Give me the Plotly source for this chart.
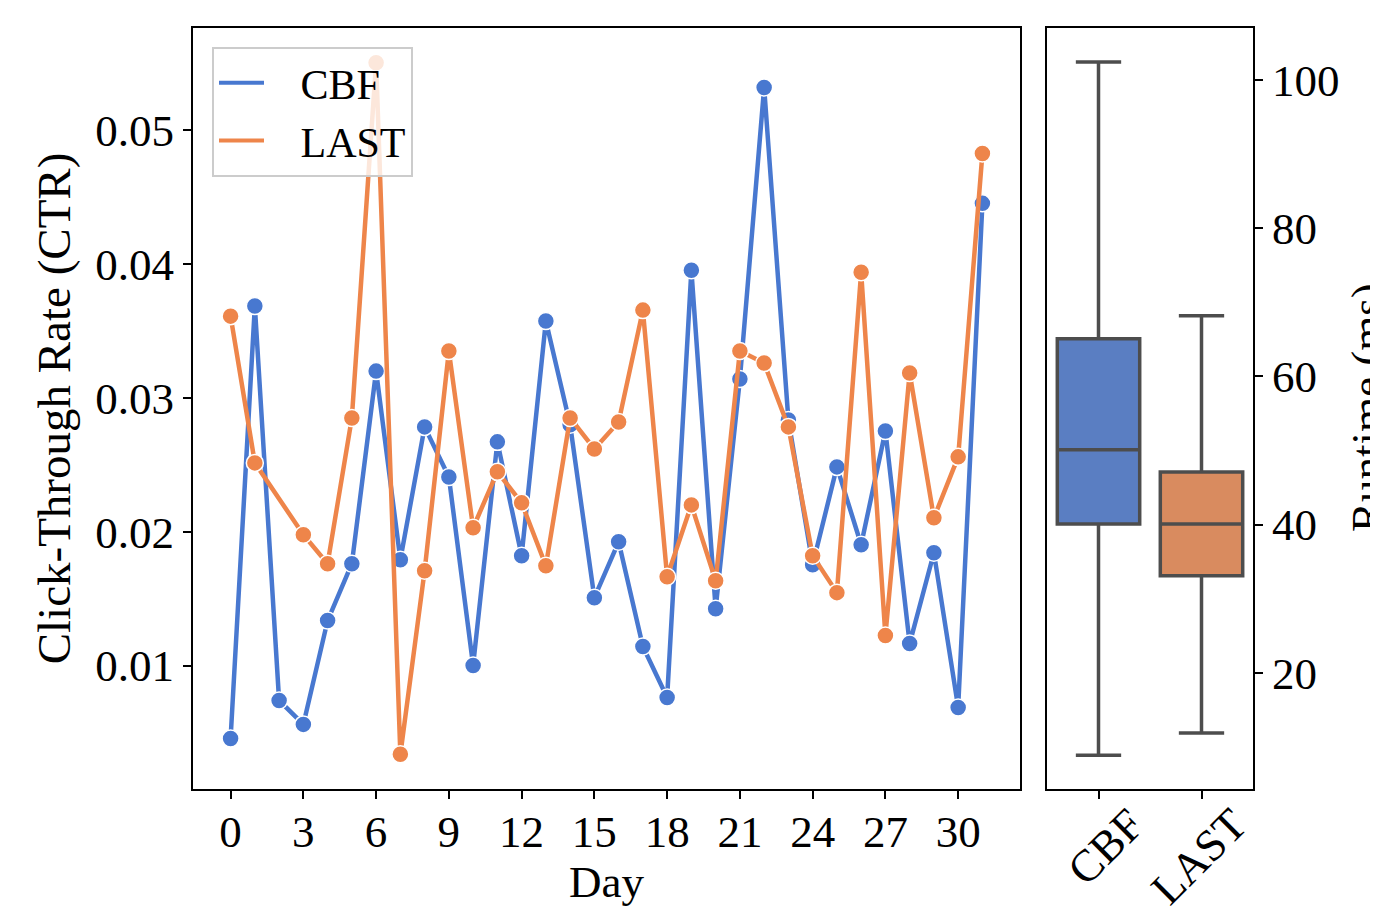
import plotly.graph_objects as go

# ---- data ----
days_cbf = list(range(32))
ctr_cbf = [0.00455, 0.03687, 0.00739, 0.0056, 0.01336, 0.01761, 0.03201, 0.01791,
           0.02784, 0.0241, 0.0100, 0.02672, 0.01821, 0.03575, 0.0280, 0.01507,
           0.01925, 0.01142, 0.00761, 0.03955, 0.01425, 0.03142, 0.05321, 0.02836,
           0.01754, 0.02485, 0.01903, 0.02754, 0.01164, 0.01843, 0.00687, 0.04455]

days_last = [0, 1, 3, 4, 5, 6, 7, 8, 9, 10, 11, 12, 13, 14, 15, 16, 17, 18, 19, 20,
             21, 22, 23, 24, 25, 26, 27, 28, 29, 30, 31]
ctr_last = [0.03612, 0.02515, 0.01978, 0.01761, 0.02851, 0.05507, 0.00336, 0.01709,
            0.03351, 0.0203, 0.02448, 0.02216, 0.01746, 0.02851, 0.02619, 0.02821,
            0.03657, 0.01664, 0.02201, 0.01634, 0.03351, 0.03261, 0.02784, 0.01821,
            0.01545, 0.0394, 0.01224, 0.03187, 0.02104, 0.0256, 0.04828]

methods = ["CBF", "LAST"]
rt_lower = [8.9, 11.9]
rt_q1 = [40.1, 33.1]
rt_median = [50.1, 40.1]
rt_q3 = [65.1, 47.1]
rt_upper = [102.4, 68.2]

x_ticks = list(range(0, 31, 3))
y_ticks = [0.01, 0.02, 0.03, 0.04, 0.05]
rt_ticks = [20, 40, 60, 80, 100]

# ---- style ----
BLUE = "#4878d0"
ORANGE = "#ee854a"
BOX_FILL = ["#5a7ec2", "#d98b5f"]
BOX_LINE = "#4d4d4d"
FONT = "Liberation Serif"
FS = 45

OFF = 8  # page body margin offset
W, H = 1378 - OFF, 910 - OFF
L = 193 - OFF
T = 28 - OFF
R = W - (1253 - OFF)
B = H - (789 - OFF)
pw = W - L - R
ph = H - T - B

def px_x(x):
    return (x - OFF - L) / pw

def px_y(y):
    return 1 - (y - OFF - T) / ph

fig = go.Figure()

fig.add_trace(go.Scatter(
    x=days_cbf, y=ctr_cbf, mode="lines+markers", name="CBF", showlegend=False,
    line=dict(color=BLUE, width=4.5),
    marker=dict(size=17, color=BLUE, line=dict(color="white", width=1.5)),
    xaxis="x", yaxis="y"))
fig.add_trace(go.Scatter(
    x=days_last, y=ctr_last, mode="lines+markers", name="LAST", showlegend=False,
    line=dict(color=ORANGE, width=4.5),
    marker=dict(size=17, color=ORANGE, line=dict(color="white", width=1.5)),
    xaxis="x", yaxis="y"))
# legend entries (line only, like the reference)
NB = "\u00a0"
for nm, col in [("CBF", BLUE), ("LAST", ORANGE)]:
    fig.add_trace(go.Scatter(x=[None], y=[None], mode="lines", name=NB * 3 + nm,
                             line=dict(color=col, width=4), xaxis="x", yaxis="y"))

for i, m in enumerate(methods):
    fig.add_trace(go.Box(
        x=[m], q1=[rt_q1[i]], median=[rt_median[i]], q3=[rt_q3[i]],
        lowerfence=[rt_lower[i]], upperfence=[rt_upper[i]],
        fillcolor=BOX_FILL[i], line=dict(color=BOX_LINE, width=3.5),
        width=0.8, whiskerwidth=0.55, showlegend=False, boxpoints=False,
        xaxis="x2", yaxis="y2"))

axis_common = dict(showline=True, linecolor="black", linewidth=2, mirror=True,
                   ticks="outside", ticklen=8, tickwidth=2, tickcolor="black",
                   showgrid=False, zeroline=False, automargin=False,
                   tickfont=dict(family=FONT, size=FS, color="black"))

fig.update_layout(
    width=W, height=H,
    margin=dict(l=L, r=R, t=T, b=B, autoexpand=False),
    plot_bgcolor="white", paper_bgcolor="white",
    font=dict(family=FONT, size=FS, color="black"),
    xaxis=dict(domain=[0, px_x(1020)], range=[-1.55, 32.55],
               tickvals=x_ticks, ticktext=[str(v) for v in x_ticks],
               ticklabelstandoff=-6,
               title=dict(text="Day", font=dict(family=FONT, size=FS), standoff=8),
               **axis_common),
    yaxis=dict(range=[0.00077, 0.05766], tickvals=y_ticks,
               ticktext=[f"{v:.2f}" for v in y_ticks],
               title=dict(text="Click-Through Rate (CTR)", font=dict(family=FONT, size=47),
                          standoff=10),
               **axis_common),
    xaxis2=dict(domain=[px_x(1047), 1], range=[-0.5, 1.5], type="category",
                categoryorder="array", categoryarray=methods, tickangle=-45,
                ticklabelshift=32, ticklabelstandoff=-19,
                anchor="y2", **axis_common),
    yaxis2=dict(range=[4.35, 107.0], side="right", anchor="x2",
                tickvals=rt_ticks, ticktext=[str(v) for v in rt_ticks],
                **axis_common),
    legend=dict(x=px_x(212), y=px_y(47), xanchor="left", yanchor="top",
                bgcolor="rgba(255,255,255,0.8)", bordercolor="#cccccc", borderwidth=2,
                font=dict(family=FONT, size=42), itemwidth=45,
                tracegroupgap=0),
)

fig.add_annotation(text="Runtime (ms)", textangle=-90, xref="paper", yref="paper",
                   x=px_x(1367), y=px_y(408), xanchor="center", yanchor="middle",
                   showarrow=False, font=dict(family=FONT, size=FS, color="black"))

fig.write_html("out.html")
